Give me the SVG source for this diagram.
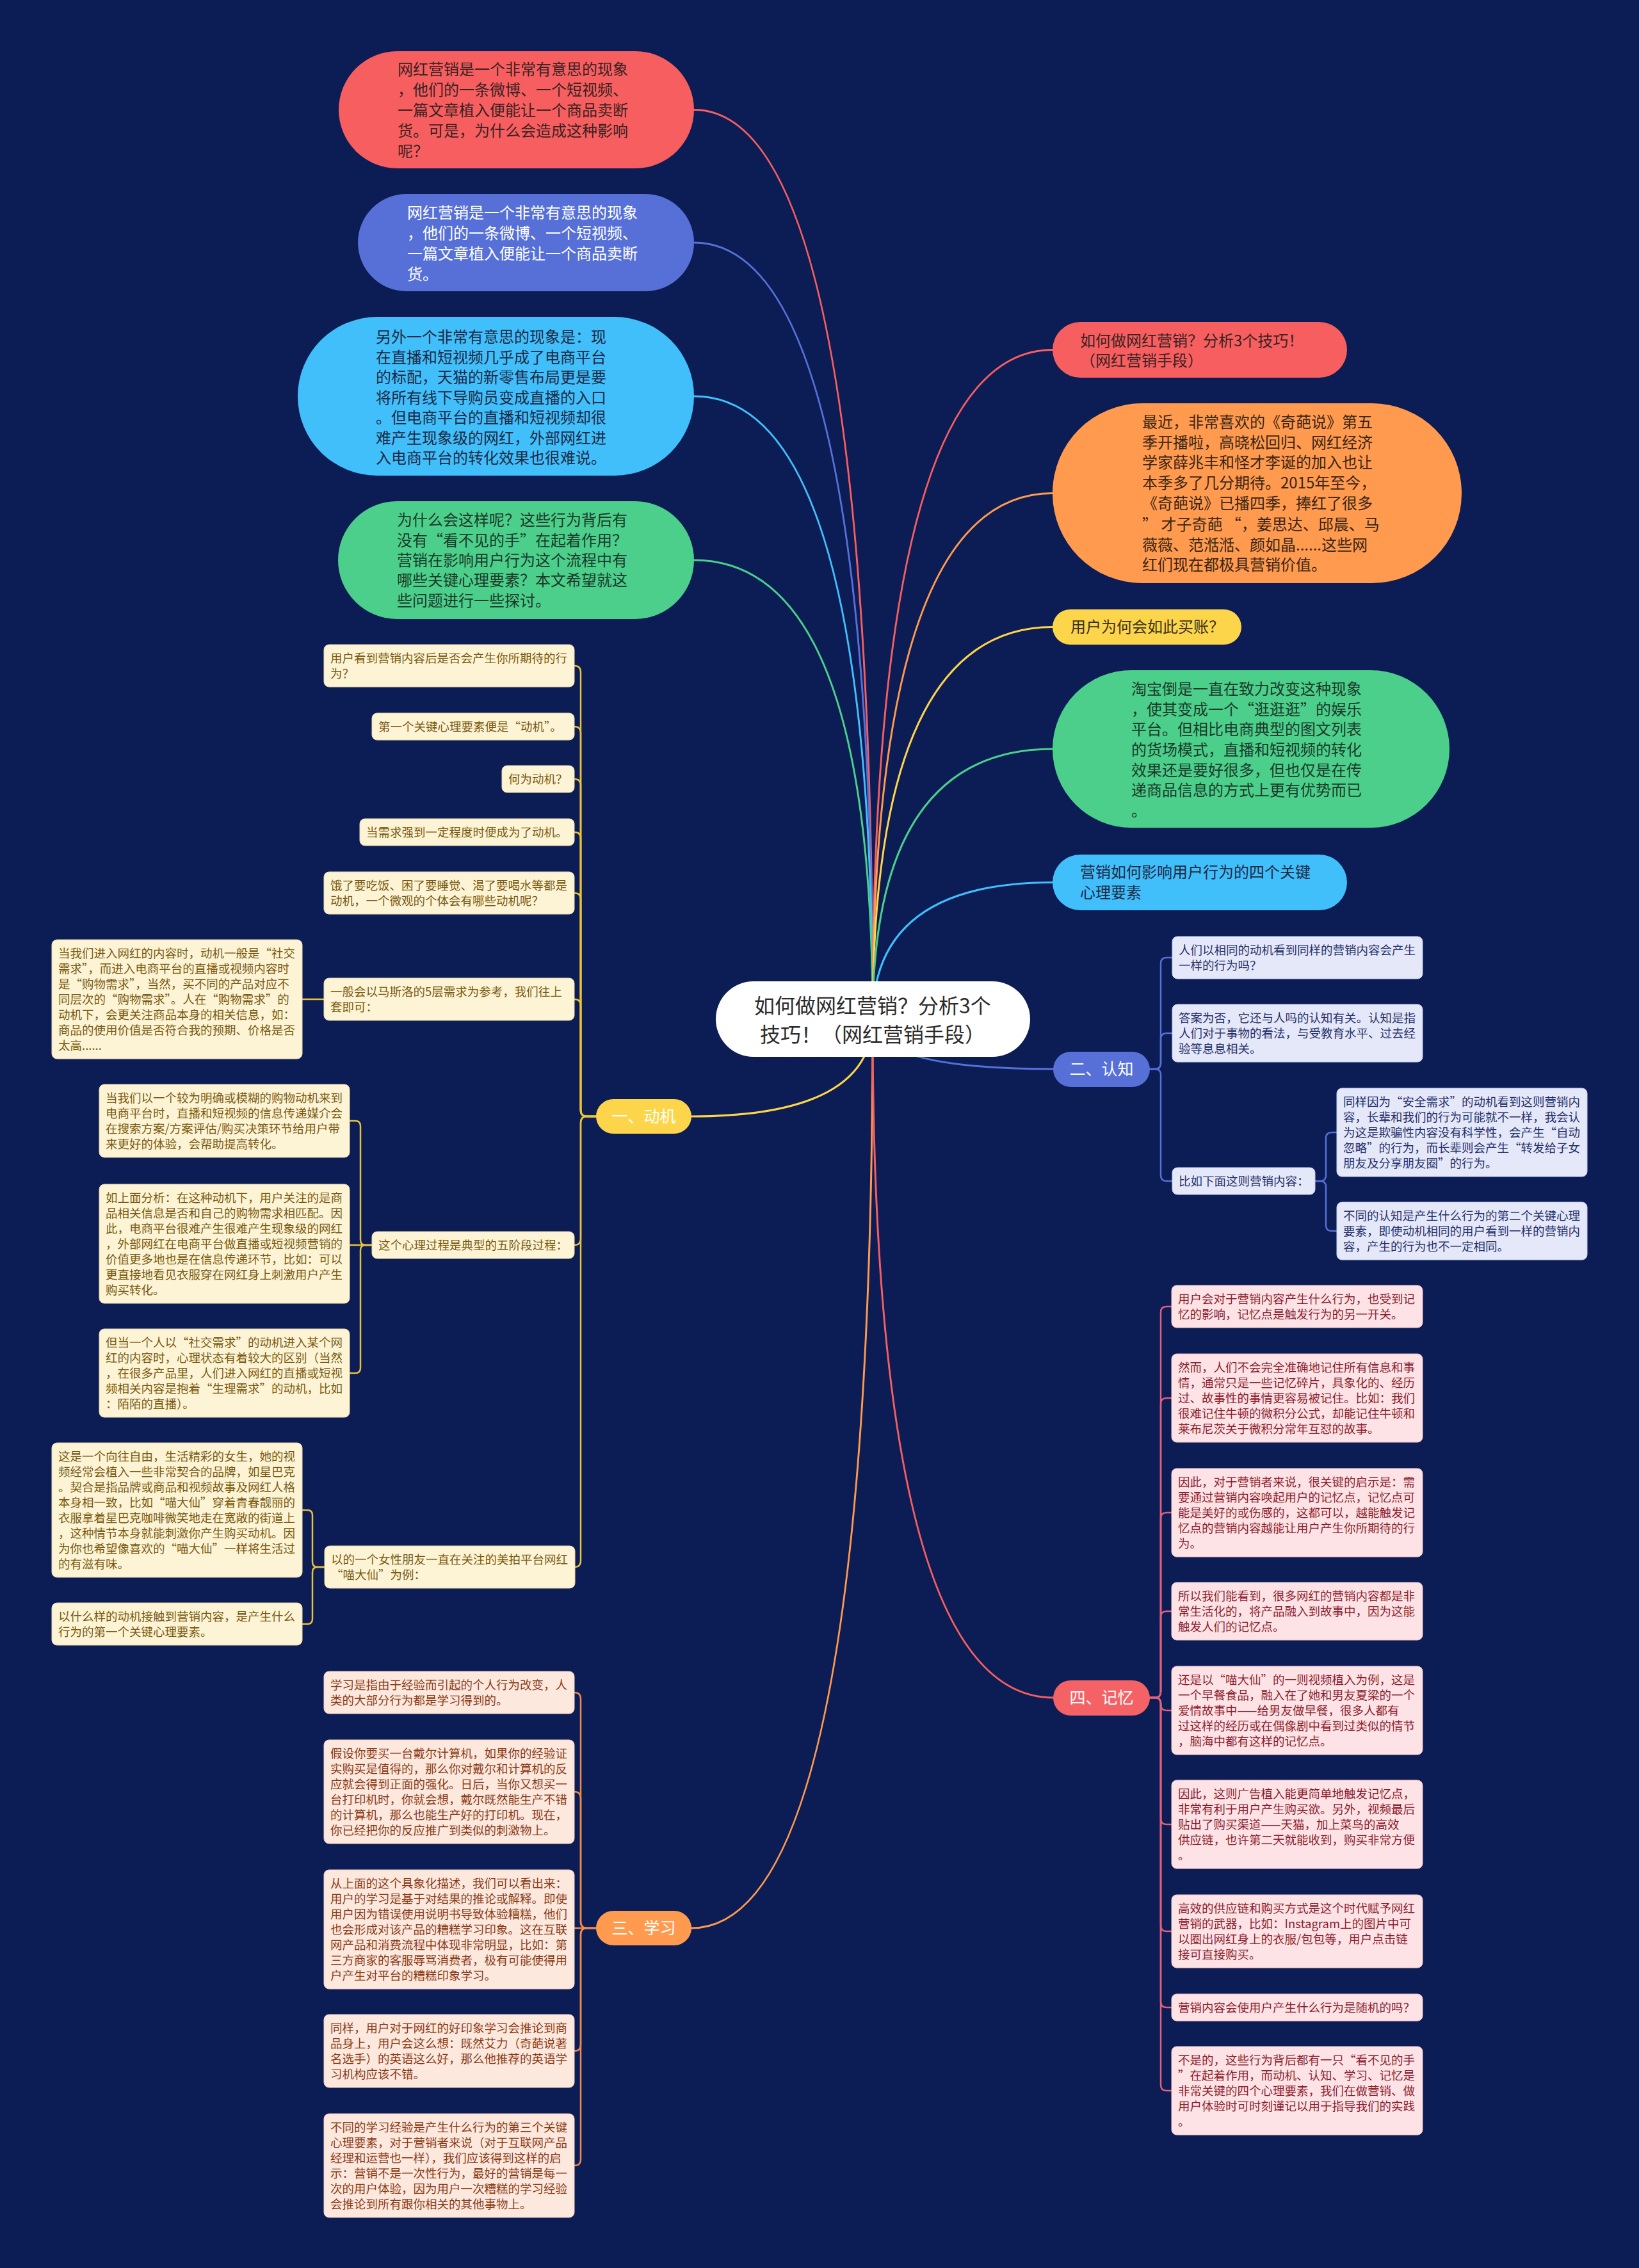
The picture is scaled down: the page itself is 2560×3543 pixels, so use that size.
<svg xmlns="http://www.w3.org/2000/svg" width="2560" height="3543" viewBox="0 0 2560 3543">
<style>
.t{font-family:"Noto Sans CJK SC","Noto Sans",sans-serif}
.big{font-size:24px}
.lf{font-size:18.5px}
.c{fill:none;stroke-width:3;stroke-linecap:round}
.cs{fill:none;stroke-width:2.5;stroke-linecap:round}
.lm{fill:#fdf4d6;stroke:#e9d9a8;stroke-width:1}
.lmt{fill:#7a5a10}
.lk{fill:#e4e8f8;stroke:#c8cfee;stroke-width:1}
.lkt{fill:#27306a}
.ll{fill:#fde8de;stroke:#efcdbd;stroke-width:1}
.llt{fill:#8b3b16}
.lr{fill:#fde3e5;stroke:#efc4c8;stroke-width:1}
.lrt{fill:#8d1d2e}
.bw{fill:#ffffff;font-size:25px}
</style>
<rect width="2560" height="3543" fill="#0c1c55"/>

<g id="connectors">
<path class="c" stroke="#f65e60" d="M1363,1592 Q1363,171.5 1084,171.5"/>
<path class="c" stroke="#5670d8" d="M1363,1592 Q1363,379 1084,379"/>
<path class="c" stroke="#41bffb" d="M1363,1592 Q1363,619 1084,619"/>
<path class="c" stroke="#4bcf8b" d="M1363,1592 Q1363,875 1084,875"/>
<path class="c" stroke="#f65e60" d="M1363,1592 Q1363,546.5 1644,546.5"/>
<path class="c" stroke="#ff9a4e" d="M1363,1592 Q1363,770.5 1644,770.5"/>
<path class="c" stroke="#fdd54a" d="M1363,1592 Q1363,979.5 1644,979.5"/>
<path class="c" stroke="#4bcf8b" d="M1363,1592 Q1363,1170 1644,1170"/>
<path class="c" stroke="#41bffb" d="M1363,1592 Q1363,1378.5 1644,1378.5"/>
<path class="c" stroke="#fdd54a" d="M1363,1592 Q1363,1744 1080,1744"/>
<path class="c" stroke="#5670d8" d="M1363,1592 Q1363,1670 1645,1670"/>
<path class="c" stroke="#ff9a4e" d="M1363,1592 Q1363,3012 1080,3012"/>
<path class="c" stroke="#f65e60" d="M1363,1592 Q1363,2652 1645,2652"/>

<g stroke="#e8c23a" class="cs">
<path d="M931,1744H917Q907,1744 907,1734V1050Q907,1040 897,1040"/>
<path d="M931,1744H917Q907,1744 907,1734V1145Q907,1135 897,1135"/>
<path d="M931,1744H917Q907,1744 907,1734V1227Q907,1217 897,1217"/>
<path d="M931,1744H917Q907,1744 907,1734V1310Q907,1300 897,1300"/>
<path d="M931,1744H917Q907,1744 907,1734V1405Q907,1395 897,1395"/>
<path d="M931,1744H917Q907,1744 907,1734V1571Q907,1561 897,1561"/>
<path d="M931,1744H917Q907,1744 907,1754V1935Q907,1945 897,1945"/>
<path d="M931,1744H917Q907,1744 907,1754V2438Q907,2448 897,2448"/>
<path d="M506,1561H472"/>
<path d="M581,1945H571Q563,1945 563,1937V1759Q563,1751 555,1751H546"/>
<path d="M581,1945H546"/>
<path d="M581,1945H571Q563,1945 563,1953V2137Q563,2145 555,2145H546"/>
<path d="M507,2448H496Q488,2448 488,2440V2367Q488,2359 480,2359H471"/>
<path d="M507,2448H496Q488,2448 488,2456V2529Q488,2537 480,2537H471"/>
</g>
<g stroke="#f08a4a" class="cs">
<path d="M931,3012H917Q907,3012 907,3002V2654Q907,2644 897,2644"/>
<path d="M931,3012H917Q907,3012 907,3002V2809Q907,2799 897,2799"/>
<path d="M931,3012H897"/>
<path d="M931,3012H917Q907,3012 907,3022V3194Q907,3204 897,3204"/>
<path d="M931,3012H917Q907,3012 907,3022V3373Q907,3383 897,3383"/>
</g>
<g stroke="#5670d8" class="cs">
<path d="M1796,1670H1804Q1813,1670 1813,1661V1505Q1813,1496 1822,1496H1831"/>
<path d="M1796,1670H1804Q1813,1670 1813,1661V1623Q1813,1614 1822,1614H1831"/>
<path d="M1796,1670H1804Q1813,1670 1813,1679V1836Q1813,1845 1822,1845H1831"/>
<path d="M2054,1845H2062Q2071,1845 2071,1836V1778Q2071,1769 2080,1769H2088"/>
<path d="M2054,1845H2062Q2071,1845 2071,1854V1914Q2071,1923 2080,1923H2088"/>
</g>
<g stroke="#e0607a" class="cs">
<path d="M1796,2652H1804Q1813,2652 1813,2643V2050Q1813,2041 1822,2041H1830"/>
<path d="M1796,2652H1804Q1813,2652 1813,2643V2193Q1813,2184 1822,2184H1830"/>
<path d="M1796,2652H1804Q1813,2652 1813,2643V2372Q1813,2363 1822,2363H1830"/>
<path d="M1796,2652H1804Q1813,2652 1813,2643V2526Q1813,2517 1822,2517H1830"/>
<path d="M1796,2652H1804Q1813,2652 1813,2661V2663Q1813,2672 1822,2672H1830"/>
<path d="M1796,2652H1804Q1813,2652 1813,2661V2841Q1813,2850 1822,2850H1830"/>
<path d="M1796,2652H1804Q1813,2652 1813,2661V3008Q1813,3017 1822,3017H1830"/>
<path d="M1796,2652H1804Q1813,2652 1813,2661V3127Q1813,3136 1822,3136H1830"/>
<path d="M1796,2652H1804Q1813,2652 1813,2661V3257Q1813,3266 1822,3266H1830"/>
</g>
</g>

<g id="n-red-top">
<rect x="529" y="80" width="555" height="183" rx="91.5" fill="#f65e60"/>
<text class="t big" fill="#3b2222" x="621"><tspan x="621" y="117">网红营销是一个非常有意思的现象</tspan><tspan x="621" y="149">，他们的一条微博、一个短视频、</tspan><tspan x="621" y="181">一篇文章植入便能让一个商品卖断</tspan><tspan x="621" y="213">货。可是，为什么会造成这种影响</tspan><tspan x="621" y="245">呢？</tspan></text>
</g>
<g id="n-blue-top">
<rect x="559" y="303" width="525" height="152" rx="76" fill="#5670d8"/>
<text class="t big" fill="#ffffff"><tspan x="636" y="341">网红营销是一个非常有意思的现象</tspan><tspan x="636" y="373">，他们的一条微博、一个短视频、</tspan><tspan x="636" y="405">一篇文章植入便能让一个商品卖断</tspan><tspan x="636" y="437">货。</tspan></text>
</g>
<g id="n-cyan-top">
<rect x="465" y="495" width="619" height="248" rx="124" fill="#41bffb"/>
<text class="t big" fill="#1d2a45"><tspan x="587" y="535">另外一个非常有意思的现象是：现</tspan><tspan x="587" y="567">在直播和短视频几乎成了电商平台</tspan><tspan x="587" y="598">的标配，天猫的新零售布局更是要</tspan><tspan x="587" y="630">将所有线下导购员变成直播的入口</tspan><tspan x="587" y="661">。但电商平台的直播和短视频却很</tspan><tspan x="587" y="693">难产生现象级的网红，外部网红进</tspan><tspan x="587" y="724">入电商平台的转化效果也很难说。</tspan></text>
</g>
<g id="n-green-top">
<rect x="528" y="783" width="556" height="184" rx="92" fill="#4bcf8b"/>
<text class="t big" fill="#1c3a2a"><tspan x="620" y="821">为什么会这样呢？这些行为背后有</tspan><tspan x="620" y="853">没有“看不见的手”在起着作用？</tspan><tspan x="620" y="884">营销在影响用户行为这个流程中有</tspan><tspan x="620" y="915">哪些关键心理要素？本文希望就这</tspan><tspan x="620" y="947">些问题进行一些探讨。</tspan></text>
</g>

<g id="n-red-right">
<rect x="1644" y="503" width="460" height="87" rx="43.5" fill="#f65e60"/>
<text class="t big" fill="#3b2222"><tspan x="1687" y="541">如何做网红营销？分析3个技巧！</tspan><tspan x="1687" y="572">（网红营销手段）</tspan></text>
</g>
<g id="n-orange">
<rect x="1644" y="630" width="639" height="281" rx="140" fill="#ff9a4e"/>
<text class="t big" fill="#3a2616"><tspan x="1784" y="668">最近，非常喜欢的《奇葩说》第五</tspan><tspan x="1784" y="700">季开播啦，高晓松回归、网红经济</tspan><tspan x="1784" y="731">学家薛兆丰和怪才李诞的加入也让</tspan><tspan x="1784" y="763">本季多了几分期待。2015年至今，</tspan><tspan x="1784" y="795">《奇葩说》已播四季，捧红了很多</tspan><tspan x="1784" y="828">” 才子奇葩 “，姜思达、邱晨、马</tspan><tspan x="1784" y="860">薇薇、范湉湉、颜如晶......这些网</tspan><tspan x="1784" y="891">红们现在都极具营销价值。</tspan></text>
</g>
<g id="n-yellow">
<rect x="1644" y="952" width="295" height="55" rx="27.5" fill="#fdd54a"/>
<text class="t big" fill="#3a3020" x="1672" y="988">用户为何会如此买账？</text>
</g>
<g id="n-green-right">
<rect x="1644" y="1047" width="620" height="246" rx="123" fill="#4bcf8b"/>
<text class="t big" fill="#1c3a2a"><tspan x="1767" y="1085">淘宝倒是一直在致力改变这种现象</tspan><tspan x="1767" y="1117">，使其变成一个“逛逛逛”的娱乐</tspan><tspan x="1767" y="1148">平台。但相比电商典型的图文列表</tspan><tspan x="1767" y="1180">的货场模式，直播和短视频的转化</tspan><tspan x="1767" y="1212">效果还是要好很多，但也仅是在传</tspan><tspan x="1767" y="1243">递商品信息的方式上更有优势而已</tspan><tspan x="1767" y="1275">。</tspan></text>
</g>
<g id="n-cyan-right">
<rect x="1644" y="1335" width="460" height="87" rx="43.5" fill="#41bffb"/>
<text class="t big" fill="#1d2a45"><tspan x="1687" y="1371">营销如何影响用户行为的四个关键</tspan><tspan x="1687" y="1403">心理要素</tspan></text>
</g>

<g id="root">
<rect x="1118" y="1533" width="491" height="118" rx="59" fill="#ffffff"/>
<text class="t" font-size="32" fill="#2b2b2b" text-anchor="middle"><tspan x="1363" y="1583">如何做网红营销？分析3个</tspan><tspan x="1363" y="1628">技巧！（网红营销手段）</tspan></text>
</g>

<g id="b-motive">
<rect x="931" y="1717" width="149" height="54" rx="27" fill="#fdd54a"/>
<text class="t bw" x="1005.5" y="1753" text-anchor="middle">一、动机</text>
</g>
<g id="b-cognition">
<rect x="1645" y="1643" width="151" height="55" rx="27.5" fill="#5670d8"/>
<text class="t bw" x="1720.5" y="1679" text-anchor="middle">二、认知</text>
</g>
<g id="b-learning">
<rect x="931" y="2985" width="149" height="54" rx="27" fill="#ff9a4e"/>
<text class="t bw" x="1005.5" y="3021" text-anchor="middle">三、学习</text>
</g>
<g id="b-memory">
<rect x="1645" y="2625" width="151" height="55" rx="27.5" fill="#f46265"/>
<text class="t bw" x="1720.5" y="2661" text-anchor="middle">四、记忆</text>
</g>

<g id="m1"><rect class="lm" x="506" y="1007" width="391" height="66" rx="8"/><text class="t lf lmt"><tspan x="516" y="1034.5">用户看到营销内容后是否会产生你所期待的行</tspan><tspan x="516" y="1058.5">为？</tspan></text></g>
<g id="m2"><rect class="lm" x="581" y="1114" width="316" height="42" rx="8"/><text class="t lf lmt" x="591" y="1141.5">第一个关键心理要素便是“动机”。</text></g>
<g id="m3"><rect class="lm" x="784" y="1196" width="113" height="42" rx="8"/><text class="t lf lmt" x="794" y="1223.5">何为动机？</text></g>
<g id="m4"><rect class="lm" x="562" y="1279" width="335" height="42" rx="8"/><text class="t lf lmt" x="572" y="1306.5">当需求强到一定程度时便成为了动机。</text></g>
<g id="m5"><rect class="lm" x="506" y="1362" width="391" height="66" rx="8"/><text class="t lf lmt"><tspan x="516" y="1389.5">饿了要吃饭、困了要睡觉、渴了要喝水等都是</tspan><tspan x="516" y="1413.5">动机，一个微观的个体会有哪些动机呢？</tspan></text></g>
<g id="m6"><rect class="lm" x="506" y="1528" width="391" height="66" rx="8"/><text class="t lf lmt"><tspan x="516" y="1555.5">一般会以马斯洛的5层需求为参考，我们往上</tspan><tspan x="516" y="1579.5">套即可：</tspan></text></g>
<g id="m7"><rect class="lm" x="81" y="1468" width="391" height="186" rx="8"/><text class="t lf lmt"><tspan x="91" y="1495.5">当我们进入网红的内容时，动机一般是“社交</tspan><tspan x="91" y="1519.5">需求”，而进入电商平台的直播或视频内容时</tspan><tspan x="91" y="1543.5">是“购物需求”，当然，买不同的产品对应不</tspan><tspan x="91" y="1567.5">同层次的“购物需求”。人在“购物需求”的</tspan><tspan x="91" y="1591.5">动机下，会更关注商品本身的相关信息，如：</tspan><tspan x="91" y="1615.5">商品的使用价值是否符合我的预期、价格是否</tspan><tspan x="91" y="1639.5">太高......</tspan></text></g>
<g id="m8"><rect class="lm" x="581" y="1924" width="316" height="42" rx="8"/><text class="t lf lmt" x="591" y="1951.5">这个心理过程是典型的五阶段过程：</text></g>
<g id="m9"><rect class="lm" x="155" y="1694" width="391" height="114" rx="8"/><text class="t lf lmt"><tspan x="165" y="1721.5">当我们以一个较为明确或模糊的购物动机来到</tspan><tspan x="165" y="1745.5">电商平台时，直播和短视频的信息传递媒介会</tspan><tspan x="165" y="1769.5">在搜索方案/方案评估/购买决策环节给用户带</tspan><tspan x="165" y="1793.5">来更好的体验，会帮助提高转化。</tspan></text></g>
<g id="m10"><rect class="lm" x="155" y="1850" width="391" height="186" rx="8"/><text class="t lf lmt"><tspan x="165" y="1877.5">如上面分析：在这种动机下，用户关注的是商</tspan><tspan x="165" y="1901.5">品相关信息是否和自己的购物需求相匹配。因</tspan><tspan x="165" y="1925.5">此，电商平台很难产生很难产生现象级的网红</tspan><tspan x="165" y="1949.5">，外部网红在电商平台做直播或短视频营销的</tspan><tspan x="165" y="1973.5">价值更多地也是在信息传递环节，比如：可以</tspan><tspan x="165" y="1997.5">更直接地看见衣服穿在网红身上刺激用户产生</tspan><tspan x="165" y="2021.5">购买转化。</tspan></text></g>
<g id="m11"><rect class="lm" x="155" y="2076" width="391" height="138" rx="8"/><text class="t lf lmt"><tspan x="165" y="2103.5">但当一个人以“社交需求”的动机进入某个网</tspan><tspan x="165" y="2127.5">红的内容时，心理状态有着较大的区别（当然</tspan><tspan x="165" y="2151.5">，在很多产品里，人们进入网红的直播或短视</tspan><tspan x="165" y="2175.5">频相关内容是抱着“生理需求”的动机，比如</tspan><tspan x="165" y="2199.5">：陌陌的直播）。</tspan></text></g>
<g id="m12"><rect class="lm" x="507" y="2415" width="391" height="66" rx="8"/><text class="t lf lmt"><tspan x="517" y="2442.5">以的一个女性朋友一直在关注的美拍平台网红</tspan><tspan x="517" y="2466.5">“喵大仙”为例：</tspan></text></g>
<g id="m13"><rect class="lm" x="81" y="2254" width="391" height="210" rx="8"/><text class="t lf lmt"><tspan x="91" y="2281.5">这是一个向往自由，生活精彩的女生，她的视</tspan><tspan x="91" y="2305.5">频经常会植入一些非常契合的品牌，如星巴克</tspan><tspan x="91" y="2329.5">。契合是指品牌或商品和视频故事及网红人格</tspan><tspan x="91" y="2353.5">本身相一致，比如“喵大仙”穿着青春靓丽的</tspan><tspan x="91" y="2377.5">衣服拿着星巴克咖啡微笑地走在宽敞的街道上</tspan><tspan x="91" y="2401.5">，这种情节本身就能刺激你产生购买动机。因</tspan><tspan x="91" y="2425.5">为你也希望像喜欢的“喵大仙”一样将生活过</tspan><tspan x="91" y="2449.5">的有滋有味。</tspan></text></g>
<g id="m14"><rect class="lm" x="81" y="2504" width="391" height="66" rx="8"/><text class="t lf lmt"><tspan x="91" y="2531.5">以什么样的动机接触到营销内容，是产生什么</tspan><tspan x="91" y="2555.5">行为的第一个关键心理要素。</tspan></text></g>

<g id="k1"><rect class="lk" x="1831" y="1463" width="391" height="66" rx="8"/><text class="t lf lkt"><tspan x="1841" y="1490.5">人们以相同的动机看到同样的营销内容会产生</tspan><tspan x="1841" y="1514.5">一样的行为吗？</tspan></text></g>
<g id="k2"><rect class="lk" x="1831" y="1569" width="391" height="90" rx="8"/><text class="t lf lkt"><tspan x="1841" y="1596.5">答案为否，它还与人吗的认知有关。认知是指</tspan><tspan x="1841" y="1620.5">人们对于事物的看法，与受教育水平、过去经</tspan><tspan x="1841" y="1644.5">验等息息相关。</tspan></text></g>
<g id="k3"><rect class="lk" x="1831" y="1824" width="223" height="42" rx="8"/><text class="t lf lkt" x="1841" y="1851.5">比如下面这则营销内容：</text></g>
<g id="k4"><rect class="lk" x="2088" y="1700" width="391" height="138" rx="8"/><text class="t lf lkt"><tspan x="2098" y="1727.5">同样因为“安全需求”的动机看到这则营销内</tspan><tspan x="2098" y="1751.5">容，长辈和我们的行为可能就不一样，我会认</tspan><tspan x="2098" y="1775.5">为这是欺骗性内容没有科学性，会产生“自动</tspan><tspan x="2098" y="1799.5">忽略”的行为，而长辈则会产生“转发给子女</tspan><tspan x="2098" y="1823.5">朋友及分享朋友圈”的行为。</tspan></text></g>
<g id="k5"><rect class="lk" x="2088" y="1878" width="391" height="90" rx="8"/><text class="t lf lkt"><tspan x="2098" y="1905.5">不同的认知是产生什么行为的第二个关键心理</tspan><tspan x="2098" y="1929.5">要素，即使动机相同的用户看到一样的营销内</tspan><tspan x="2098" y="1953.5">容，产生的行为也不一定相同。</tspan></text></g>

<g id="r1"><rect class="lr" x="1830" y="2008" width="392" height="66" rx="8"/><text class="t lf lrt"><tspan x="1840" y="2035.5">用户会对于营销内容产生什么行为，也受到记</tspan><tspan x="1840" y="2059.5">忆的影响，记忆点是触发行为的另一开关。</tspan></text></g>
<g id="r2"><rect class="lr" x="1830" y="2115" width="392" height="138" rx="8"/><text class="t lf lrt"><tspan x="1840" y="2142.5">然而，人们不会完全准确地记住所有信息和事</tspan><tspan x="1840" y="2166.5">情，通常只是一些记忆碎片，具象化的、经历</tspan><tspan x="1840" y="2190.5">过、故事性的事情更容易被记住。比如：我们</tspan><tspan x="1840" y="2214.5">很难记住牛顿的微积分公式，却能记住牛顿和</tspan><tspan x="1840" y="2238.5">莱布尼茨关于微积分常年互怼的故事。</tspan></text></g>
<g id="r3"><rect class="lr" x="1830" y="2294" width="392" height="138" rx="8"/><text class="t lf lrt"><tspan x="1840" y="2321.5">因此，对于营销者来说，很关键的启示是：需</tspan><tspan x="1840" y="2345.5">要通过营销内容唤起用户的记忆点，记忆点可</tspan><tspan x="1840" y="2369.5">能是美好的或伤感的，这都可以，越能触发记</tspan><tspan x="1840" y="2393.5">忆点的营销内容越能让用户产生你所期待的行</tspan><tspan x="1840" y="2417.5">为。</tspan></text></g>
<g id="r4"><rect class="lr" x="1830" y="2472" width="392" height="90" rx="8"/><text class="t lf lrt"><tspan x="1840" y="2499.5">所以我们能看到，很多网红的营销内容都是非</tspan><tspan x="1840" y="2523.5">常生活化的，将产品融入到故事中，因为这能</tspan><tspan x="1840" y="2547.5">触发人们的记忆点。</tspan></text></g>
<g id="r5"><rect class="lr" x="1830" y="2603" width="392" height="138" rx="8"/><text class="t lf lrt"><tspan x="1840" y="2630.5">还是以“喵大仙”的一则视频植入为例，这是</tspan><tspan x="1840" y="2654.5">一个早餐食品，融入在了她和男友夏梁的一个</tspan><tspan x="1840" y="2678.5">爱情故事中——给男友做早餐，很多人都有</tspan><tspan x="1840" y="2702.5">过这样的经历或在偶像剧中看到过类似的情节</tspan><tspan x="1840" y="2726.5">，脑海中都有这样的记忆点。</tspan></text></g>
<g id="r6"><rect class="lr" x="1830" y="2781" width="392" height="138" rx="8"/><text class="t lf lrt"><tspan x="1840" y="2808.5">因此，这则广告植入能更简单地触发记忆点，</tspan><tspan x="1840" y="2832.5">非常有利于用户产生购买欲。另外，视频最后</tspan><tspan x="1840" y="2856.5">贴出了购买渠道——天猫，加上菜鸟的高效</tspan><tspan x="1840" y="2880.5">供应链，也许第二天就能收到，购买非常方便</tspan><tspan x="1840" y="2904.5">。</tspan></text></g>
<g id="r7"><rect class="lr" x="1830" y="2960" width="392" height="114" rx="8"/><text class="t lf lrt"><tspan x="1840" y="2987.5">高效的供应链和购买方式是这个时代赋予网红</tspan><tspan x="1840" y="3011.5">营销的武器，比如：Instagram上的图片中可</tspan><tspan x="1840" y="3035.5">以圈出网红身上的衣服/包包等，用户点击链</tspan><tspan x="1840" y="3059.5">接可直接购买。</tspan></text></g>
<g id="r8"><rect class="lr" x="1830" y="3115" width="392" height="42" rx="8"/><text class="t lf lrt" x="1840" y="3142.5">营销内容会使用户产生什么行为是随机的吗？</text></g>
<g id="r9"><rect class="lr" x="1830" y="3197" width="392" height="138" rx="8"/><text class="t lf lrt"><tspan x="1840" y="3224.5">不是的，这些行为背后都有一只“看不见的手</tspan><tspan x="1840" y="3248.5">”在起着作用，而动机、认知、学习、记忆是</tspan><tspan x="1840" y="3272.5">非常关键的四个心理要素，我们在做营销、做</tspan><tspan x="1840" y="3296.5">用户体验时可时刻谨记以用于指导我们的实践</tspan><tspan x="1840" y="3320.5">。</tspan></text></g>

<g id="s1"><rect class="ll" x="506" y="2611" width="391" height="66" rx="8"/><text class="t lf llt"><tspan x="516" y="2638.5">学习是指由于经验而引起的个人行为改变，人</tspan><tspan x="516" y="2662.5">类的大部分行为都是学习得到的。</tspan></text></g>
<g id="s2"><rect class="ll" x="506" y="2718" width="391" height="162" rx="8"/><text class="t lf llt"><tspan x="516" y="2745.5">假设你要买一台戴尔计算机，如果你的经验证</tspan><tspan x="516" y="2769.5">实购买是值得的，那么你对戴尔和计算机的反</tspan><tspan x="516" y="2793.5">应就会得到正面的强化。日后，当你又想买一</tspan><tspan x="516" y="2817.5">台打印机时，你就会想，戴尔既然能生产不错</tspan><tspan x="516" y="2841.5">的计算机，那么也能生产好的打印机。现在，</tspan><tspan x="516" y="2865.5">你已经把你的反应推广到类似的刺激物上。</tspan></text></g>
<g id="s3"><rect class="ll" x="506" y="2921" width="391" height="186" rx="8"/><text class="t lf llt"><tspan x="516" y="2948.5">从上面的这个具象化描述，我们可以看出来：</tspan><tspan x="516" y="2972.5">用户的学习是基于对结果的推论或解释。即使</tspan><tspan x="516" y="2996.5">用户因为错误使用说明书导致体验糟糕，他们</tspan><tspan x="516" y="3020.5">也会形成对该产品的糟糕学习印象。这在互联</tspan><tspan x="516" y="3044.5">网产品和消费流程中体现非常明显，比如：第</tspan><tspan x="516" y="3068.5">三方商家的客服辱骂消费者，极有可能使得用</tspan><tspan x="516" y="3092.5">户产生对平台的糟糕印象学习。</tspan></text></g>
<g id="s4"><rect class="ll" x="506" y="3147" width="391" height="114" rx="8"/><text class="t lf llt"><tspan x="516" y="3174.5">同样，用户对于网红的好印象学习会推论到商</tspan><tspan x="516" y="3198.5">品身上，用户会这么想：既然艾力（奇葩说著</tspan><tspan x="516" y="3222.5">名选手）的英语这么好，那么他推荐的英语学</tspan><tspan x="516" y="3246.5">习机构应该不错。</tspan></text></g>
<g id="s5"><rect class="ll" x="506" y="3302" width="391" height="162" rx="8"/><text class="t lf llt"><tspan x="516" y="3329.5">不同的学习经验是产生什么行为的第三个关键</tspan><tspan x="516" y="3353.5">心理要素，对于营销者来说（对于互联网产品</tspan><tspan x="516" y="3377.5">经理和运营也一样），我们应该得到这样的启</tspan><tspan x="516" y="3401.5">示：营销不是一次性行为，最好的营销是每一</tspan><tspan x="516" y="3425.5">次的用户体验，因为用户一次糟糕的学习经验</tspan><tspan x="516" y="3449.5">会推论到所有跟你相关的其他事物上。</tspan></text></g>
</svg>
